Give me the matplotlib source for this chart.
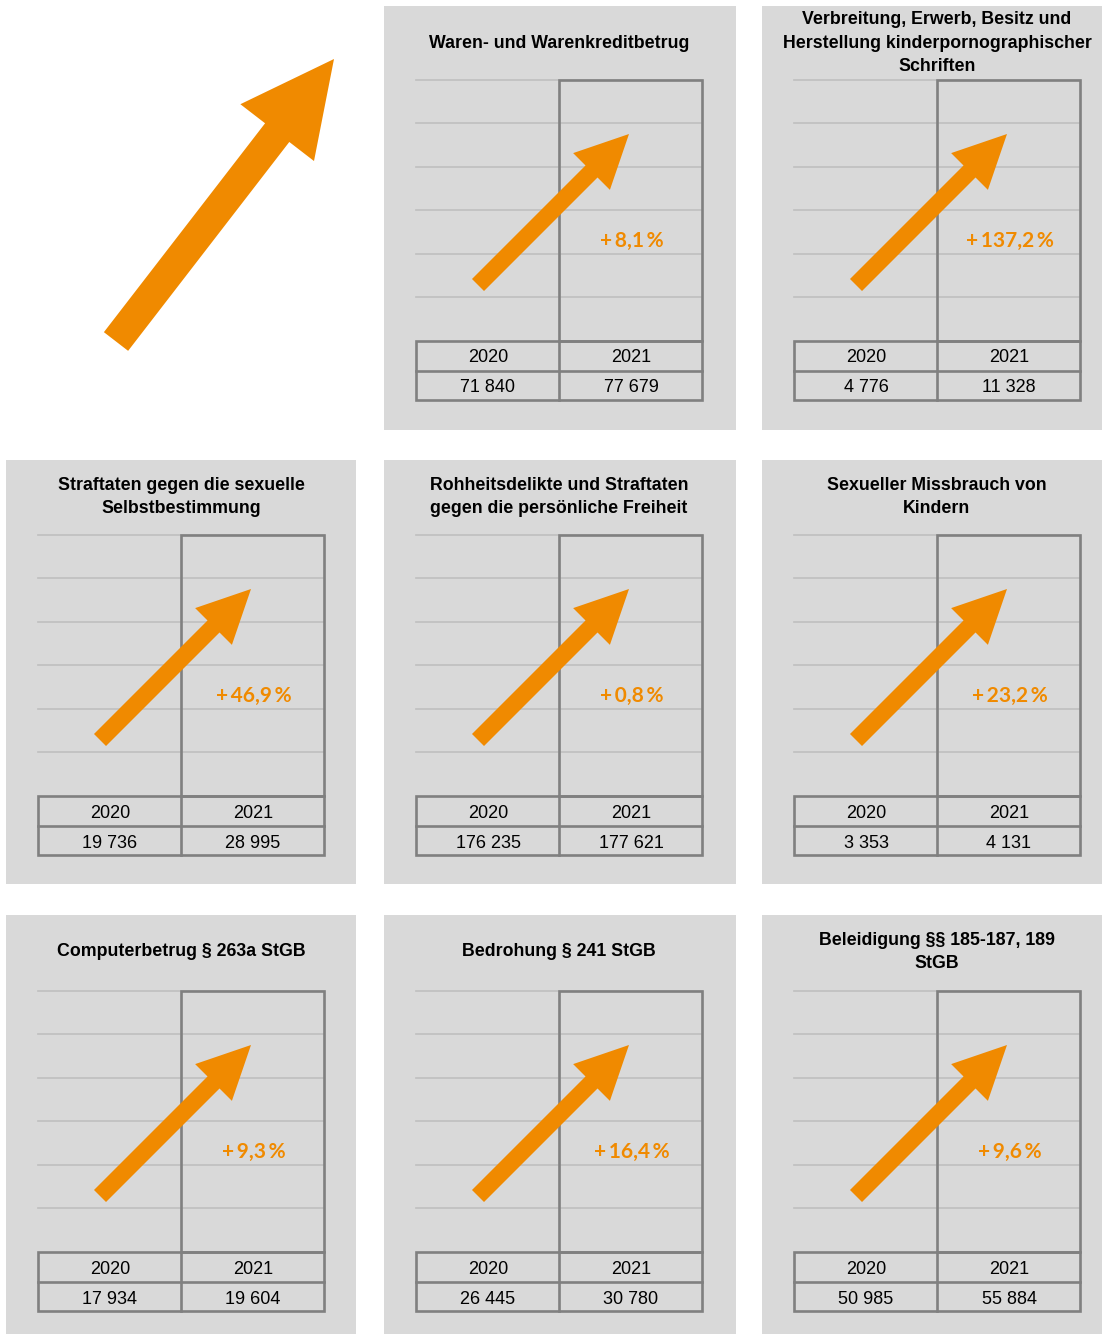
import matplotlib
matplotlib.use("Agg")
import matplotlib.pyplot as plt
from matplotlib.patches import Rectangle, FancyArrow

# Fälle 2020 / 2021 je Deliktsgruppe
titles = [
    "Waren- und Warenkreditbetrug",
    "Verbreitung, Erwerb, Besitz und\nHerstellung kinderpornographischer\nSchriften",
    "Straftaten gegen die sexuelle\nSelbstbestimmung",
    "Rohheitsdelikte und Straftaten\ngegen die persönliche Freiheit",
    "Sexueller Missbrauch von\nKindern",
    "Computerbetrug § 263a StGB",
    "Bedrohung § 241 StGB",
    "Beleidigung §§ 185-187, 189\nStGB",
]
years = ["2020", "2021"]
cases_2020 = [71840, 4776, 19736, 176235, 3353, 17934, 26445, 50985]
cases_2021 = [77679, 11328, 28995, 177621, 4131, 19604, 30780, 55884]

ORANGE = "#F08A00"
BG = "#D9D9D9"
GRID = "#BFBFBF"
EDGE = "#808080"

# grid slots (column, row); slot (0, 0) holds the big arrow
slots = [(1, 0), (2, 0), (0, 1), (1, 1), (2, 1), (0, 2), (1, 2), (2, 2)]
col_x = [6, 384, 762]
col_w = [350, 352, 340]
row_y = [6, 460, 915]
row_h = [424, 424, 419]
row_grid = [80, 535, 991]


def fmt_num(v):
    return f"{v:,}".replace(",", " ")


def fmt_pct(a, b):
    p = (b / a - 1) * 100
    sign = "+" if p >= 0 else "-"
    return sign + "\u2009" + f"{abs(p):.1f}".replace(".", ",") + "\u2009%"


fig = plt.figure(figsize=(11.02, 13.34), dpi=100)
ax = fig.add_axes([0, 0, 1, 1])
ax.set_xlim(0, 1102)
ax.set_ylim(1334, 0)
ax.axis("off")

# big arrow top left
ax.add_patch(FancyArrow(116, 341.5, 218, -282.5, width=30.6, head_width=93,
                        head_length=93, length_includes_head=True,
                        color=ORANGE, lw=0))

for i, (c, r) in enumerate(slots):
    x0, y0 = col_x[c], row_y[r]
    ax.add_patch(Rectangle((x0, y0), col_w[c], row_h[r], facecolor=BG,
                           edgecolor="none", zorder=0))
    gx, gy = x0 + 32, row_grid[r]

    # light horizontal lines
    for k in range(6):
        yy = gy + k * 43.4
        ax.plot([gx, gx + 286], [yy, yy], color=GRID, lw=1.2, zorder=1)

    # 2021 column frame
    ax.add_patch(Rectangle((gx + 143, gy), 143, 261, facecolor="none",
                           edgecolor=EDGE, lw=1.9, zorder=2))

    # value table
    ax.add_patch(Rectangle((gx, gy + 261), 286, 59, facecolor="none",
                           edgecolor=EDGE, lw=1.9, zorder=2))
    ax.plot([gx, gx + 286], [gy + 291, gy + 291], color=EDGE, lw=1.9, zorder=2)
    ax.plot([gx + 143, gx + 143], [gy + 261, gy + 320], color=EDGE, lw=1.9, zorder=2)
    for j, (yr, val) in enumerate(zip(years, [cases_2020[i], cases_2021[i]])):
        cx = gx + 72 + j * 143
        ax.text(cx, gy + 278, yr, ha="center", va="center", fontsize=13,
                family="Liberation Sans", zorder=3)
        ax.text(cx, gy + 308, fmt_num(val), ha="center", va="center",
                fontsize=13, family="Liberation Sans", zorder=3)

    # title
    ax.text(gx + 143, y0 + 37, titles[i], ha="center", va="center",
            fontsize=12.75, fontweight="bold", family="Liberation Sans",
            linespacing=1.52, zorder=3)

    # arrow and change rate
    ax.add_patch(FancyArrow(gx + 62, gy + 205, 151, -151, width=17,
                            head_width=52, head_length=53,
                            length_includes_head=True, color=ORANGE, lw=0,
                            zorder=4))
    ax.text(gx + 216, gy + 161, fmt_pct(cases_2020[i], cases_2021[i]),
            ha="center", va="center", fontsize=15, fontweight="bold",
            family=["Lato", "DejaVu Sans"], color=ORANGE, zorder=4)

fig.savefig("out.png", dpi=100)
